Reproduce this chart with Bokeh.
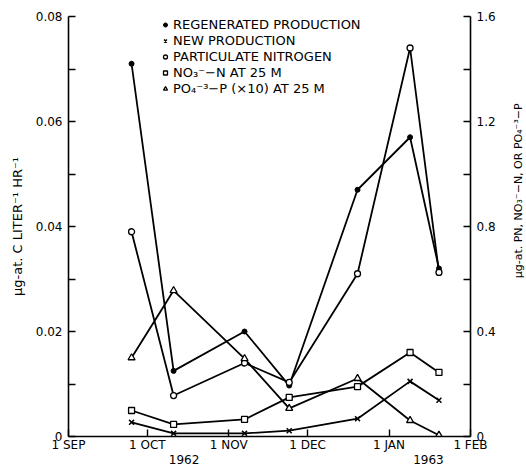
import math
import pandas as pd
from bokeh.plotting import figure
from bokeh.layouts import row
from bokeh.core.properties import value
from bokeh.models import (Range1d, LinearAxis, FixedTicker, Legend, LegendItem,
                          NumeralTickFormatter)
from bokeh.embed import file_html
from bokeh.resources import INLINE

# ---------------- data ----------------
sample_dates = ["1962-09-25", "1962-10-11", "1962-11-07", "1962-11-24",
                "1962-12-20", "1963-01-09", "1963-01-20"]
regenerated = [0.071, 0.0125, 0.020, 0.0097, 0.047, 0.057, 0.032]      # left axis
new_prod = [0.0027, 0.0006, 0.0006, 0.0011, 0.0034, 0.0105, 0.0069]    # left axis
part_n = [0.78, 0.156, 0.28, 0.206, 0.62, 1.48, 0.625]                  # right axis
no3_n = [0.099, 0.046, 0.065, 0.149, 0.19, 0.32, 0.244]                 # right axis
po4_p = [0.30, 0.556, 0.297, 0.107, 0.221, 0.061, 0.005]                # right axis

month_starts = ["1962-09-01", "1962-10-01", "1962-11-01", "1962-12-01",
                "1963-01-01", "1963-02-01"]
month_labels = ["1 SEP", "1 OCT", "1 NOV", "1 DEC", "1 JAN", "1 FEB"]
year_dates = ["1962-10-15", "1963-01-16"]
year_labels = ["1962", "1963"]

left_ticks = [0, 0.02, 0.04, 0.06, 0.08]
left_minor = [0.01, 0.03, 0.05, 0.07]
right_ticks = [0, 0.4, 0.8, 1.2, 1.6]
right_minor = [0.2, 0.6, 1.0, 1.4]

left_title = "\u00b5g-at. C LITER\u207b\u00b9 HR\u207b\u00b9"
right_title = "\u00b5g-at. PN, NO\u2083\u207b\u2212N, OR PO\u2084\u207b\u00b3\u2212P"

legend_labels = ["REGENERATED PRODUCTION", "NEW PRODUCTION",
                 "PARTICULATE NITROGEN", "NO\u2083\u207b\u2212N AT 25 M",
                 "PO\u2084\u207b\u00b3\u2212P (\u00d710) AT 25 M"]

origin = pd.Timestamp("1962-09-01")


def days(ds):
    return [(pd.Timestamp(d) - origin).days for d in ds]


x = days(sample_dates)
month_x = days(month_starts)
year_x = days(year_dates)

FONT = "DejaVu Sans"

p = figure(width=510, height=475, output_backend="svg", toolbar_location=None,
           x_range=Range1d(month_x[0], month_x[-1]), y_range=Range1d(0, 0.08),
           min_border_left=68, min_border_right=40, min_border_top=16,
           min_border_bottom=39)
p.extra_y_ranges = {"right": Range1d(right_ticks[0], right_ticks[-1])}
p.grid.visible = False
p.outline_line_color = None
p.background_fill_color = "white"
p.border_fill_color = "white"


def style(ax):
    ax.axis_line_color = "black"
    ax.axis_line_width = 1.6
    ax.major_tick_line_color = "black"
    ax.major_tick_line_width = 1.4
    ax.minor_tick_line_color = "black"
    ax.minor_tick_line_width = 1.4
    ax.major_tick_in = 7
    ax.major_tick_out = 0
    ax.minor_tick_in = 7
    ax.minor_tick_out = 0
    ax.major_label_text_font = FONT
    ax.major_label_text_font_size = "12px"
    ax.major_label_text_color = "black"
    ax.axis_label_text_font = FONT
    ax.axis_label_text_font_size = "13px"
    ax.axis_label_text_font_style = "normal"
    ax.axis_label_text_color = "black"


# bottom (months)
xa = p.xaxis[0]
style(xa)
xa.ticker = FixedTicker(ticks=month_x, minor_ticks=[])
xa.major_label_overrides = {int(d): lab for d, lab in zip(month_x, month_labels)}
xa.major_label_standoff = 1

# years axis
ya_years = LinearAxis(ticker=FixedTicker(ticks=year_x, minor_ticks=[]),
                      major_label_overrides={int(d): lab for d, lab in zip(year_x, year_labels)})
style(ya_years)
ya_years.axis_line_color = None
ya_years.major_tick_line_color = None
ya_years.minor_tick_line_color = None
ya_years.major_label_standoff = 0
p.add_layout(ya_years, "below")

# left axis
la = p.yaxis[0]
style(la)
la.ticker = FixedTicker(ticks=left_ticks, minor_ticks=left_minor)
la.formatter = NumeralTickFormatter(format="0.00")
la.major_label_overrides = {0: "0"}
la.axis_label = left_title
la.axis_label_standoff = 8
la.major_label_standoff = 6

# right axis
ra = LinearAxis(y_range_name="right",
                ticker=FixedTicker(ticks=right_ticks, minor_ticks=right_minor),
                formatter=NumeralTickFormatter(format="0.0"))
style(ra)
ra.major_label_overrides = {0: "0"}
ra.major_label_standoff = 6
p.add_layout(ra, "right")

LW = 1.8
# lines
p.line(x, regenerated, line_color="black", line_width=LW)
p.line(x, new_prod, line_color="black", line_width=LW)
p.line(x, part_n, line_color="black", line_width=LW, y_range_name="right")
p.line(x, no3_n, line_color="black", line_width=LW, y_range_name="right")
p.line(x, po4_p, line_color="black", line_width=LW, y_range_name="right")

# markers
r1 = p.scatter(x, regenerated, marker="circle", size=5, fill_color="black",
               line_color="black")
r2 = p.scatter(x, new_prod, marker="x", size=7, line_color="black", line_width=1.5)
r3 = p.scatter(x, part_n, marker="circle", size=6, fill_color="white",
               line_color="black", line_width=1.3, y_range_name="right")
r4 = p.scatter(x, no3_n, marker="square", size=6, fill_color="white",
               line_color="black", line_width=1.3, y_range_name="right")
r5 = p.scatter(x, po4_p, marker="triangle", size=7, fill_color="white",
               line_color="black", line_width=1.3, y_range_name="right")

legend = Legend(items=[LegendItem(label=lab, renderers=[r])
                       for lab, r in zip(legend_labels, [r1, r2, r3, r4, r5])],
                location=(92, 340))
legend.border_line_color = None
legend.background_fill_alpha = 0
legend.padding = 0
legend.margin = 0
legend.spacing = 1
legend.glyph_width = 10
legend.glyph_height = 15
legend.label_height = 15
legend.label_standoff = 3
legend.label_text_font = FONT
legend.label_text_font_size = "13px"
legend.label_text_color = "black"
p.add_layout(legend, "center")

# narrow strip holding the right-hand axis title (reads bottom to top)
t = figure(width=16, height=475, output_backend="svg", toolbar_location=None,
           x_range=Range1d(0, 1), y_range=Range1d(0, 1),
           x_axis_location=None, y_axis_location=None,
           min_border_left=0, min_border_right=0, min_border_top=16,
           min_border_bottom=39)
t.grid.visible = False
t.outline_line_color = None
t.border_fill_color = "white"
t.text(x=[0.5], y=[0.585], text=[right_title], angle=math.pi / 2,
       text_align="center", text_baseline="middle", text_font=value(FONT),
       text_font_size="11px", text_color="black")

layout = row(p, t, spacing=0)
open("out.html", "w").write(file_html(layout, INLINE))
